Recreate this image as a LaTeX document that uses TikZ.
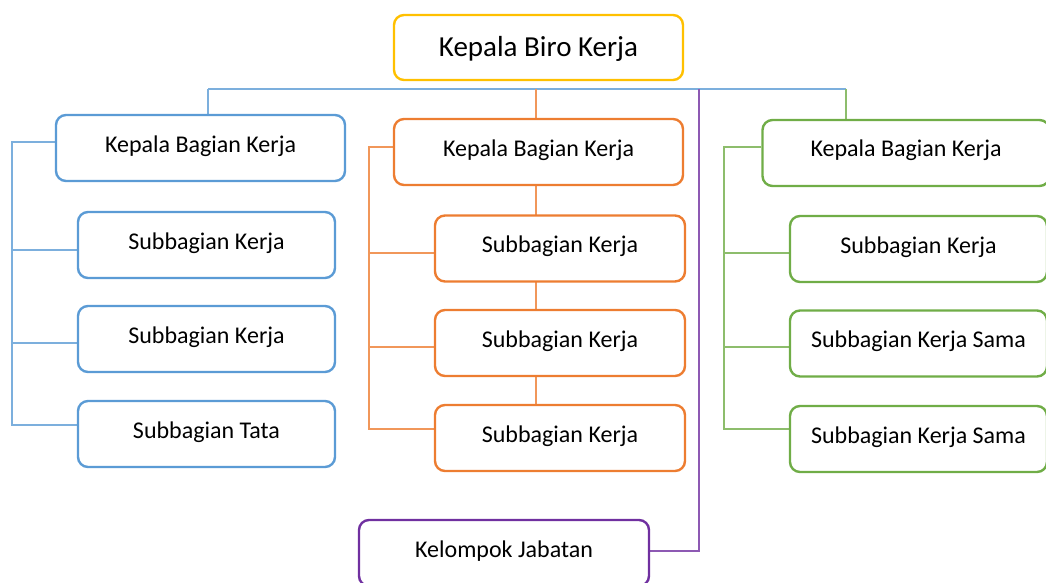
\documentclass[tikz,border=0pt]{standalone}
\usepackage{fontspec}
\setmainfont{Carlito}
\usetikzlibrary{backgrounds}

\definecolor{biru}{HTML}{5B9BD5}
\definecolor{oranye}{HTML}{ED7D31}
\definecolor{hijau}{HTML}{70AD47}
\definecolor{kuning}{HTML}{FFC000}
\definecolor{ungu}{HTML}{7030A0}

\tikzset{
    kotak/.style={draw=#1, line width=2.4pt, rounded corners=10pt, fill=white, text=black,
        inner sep=0pt, minimum height=66pt, font=\fontsize{24}{28}\selectfont,
        text height=16pt, text depth=8pt},
    garis/.style={draw=#1!80!white, line width=1.3pt},
}

\begin{document}
\begin{tikzpicture}[x=1pt, y=-1pt]
                \useasboundingbox (0, 0) rectangle (1046, 583);
                \node[kotak=kuning, minimum width=289pt, minimum height=65pt, font=\fontsize{29}{33}\selectfont, text height=20pt, text depth=1pt] (kepala) at (538.5, 47.5) {Kepala Biro Kerja};
                % kolom biru
                \node[kotak=biru, minimum width=289pt] (kbiru) at (200.5, 148) {Kepala Bagian Kerja};
                \node[kotak=biru, minimum width=257pt] (sbiru1) at (206.5, 245) {Subbagian Kerja};
                \node[kotak=biru, minimum width=257pt] (sbiru2) at (206.5, 339) {Subbagian Kerja};
                \node[kotak=biru, minimum width=257pt] (sbiru3) at (206.5, 434) {Subbagian Tata};
                % kolom oranye
                \node[kotak=oranye, minimum width=289pt] (koranye) at (538.5, 152) {Kepala Bagian Kerja};
                \node[kotak=oranye, minimum width=250pt] (soranye1) at (560, 248.5) {Subbagian Kerja};
                \node[kotak=oranye, minimum width=250pt] (soranye2) at (560, 343) {Subbagian Kerja};
                \node[kotak=oranye, minimum width=250pt] (soranye3) at (560, 438) {Subbagian Kerja};
                % kolom hijau
                \node[kotak=hijau, minimum width=287pt] (khijau) at (906, 153) {Kepala Bagian Kerja};
                \node[kotak=hijau, minimum width=257pt] (shijau1) at (918.5, 249) {Subbagian Kerja};
                \node[kotak=hijau, minimum width=257pt] (shijau2) at (918.5, 343.5) {Subbagian Kerja Sama};
                \node[kotak=hijau, minimum width=257pt] (shijau3) at (918.5, 439) {Subbagian Kerja Sama};
                \node[kotak=ungu, minimum width=290pt] (kelompok) at (504, 553) {Kelompok Jabatan};
                \begin{scope}[on background layer]
                \coordinate (busB) at (208, 89);
                \coordinate (busO) at (536, 89);
                \coordinate (busU) at (699, 89);
                \coordinate (busH) at (846, 89);
                \coordinate (tbiru) at (12, 142);
                \coordinate (toranye) at (369, 147);
                \coordinate (thijau) at (724, 147);
                \draw[garis=biru] (busB) -- (busH);
                \draw[garis=biru] (busB) -- (busB |- kbiru.north);
                \draw[garis=oranye] (busO) -- (busO |- koranye.north);
                \draw[garis=hijau] (busH) -- (busH |- khijau.north);
                \draw[garis=ungu] (busU) |- ([yshift=2pt]kelompok.east);
                % cabang biru
                \draw[garis=biru] ([yshift=6pt]kbiru.west) -- (tbiru) |- ([yshift=9pt]sbiru3.west);
                \draw[garis=biru] ([yshift=-5pt]sbiru1.west) -| (tbiru);
                \draw[garis=biru] ([yshift=-4pt]sbiru2.west) -| (tbiru);
                % cabang oranye
                \draw[garis=oranye] ([yshift=5pt]koranye.west) -- (toranye) |- ([yshift=9pt]soranye3.west);
                \draw[garis=oranye] ([yshift=-4.5pt]soranye1.west) -| (toranye);
                \draw[garis=oranye] ([yshift=-4pt]soranye2.west) -| (toranye);
                \draw[garis=oranye] ([xshift=-2.5pt]koranye.south) -- ([xshift=-2.5pt]koranye.south |- soranye3.north);
                % cabang hijau
                \draw[garis=hijau] ([yshift=6pt]khijau.west) -- (thijau) |- ([yshift=10pt]shijau3.west);
                \draw[garis=hijau] ([yshift=-4pt]shijau1.west) -| (thijau);
                \draw[garis=hijau] ([yshift=-3.5pt]shijau2.west) -| (thijau);
                \end{scope}
            \end{tikzpicture}
\end{document}
